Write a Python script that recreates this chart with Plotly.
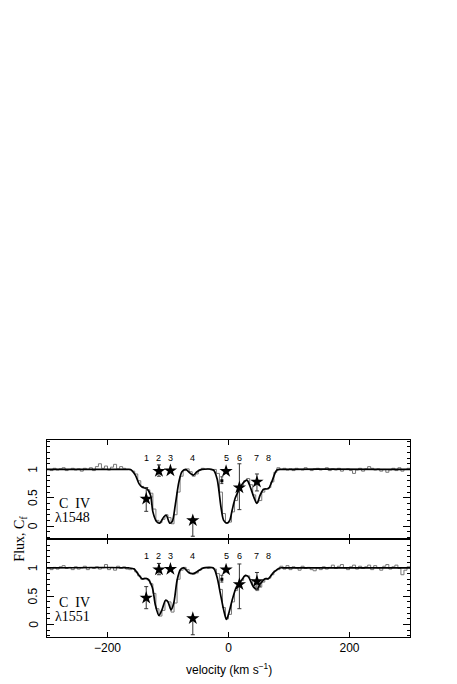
import numpy as np
import plotly.graph_objects as go
from plotly.subplots import make_subplots

# ---------------------------------------------------------------------------
# Data
# ---------------------------------------------------------------------------
vel_grid = np.arange(-300, 301, 5)

flux_1548 = [
    1.00, 0.98, 1.02, 0.99, 1.01, 1.03, 0.98, 1.00, 1.02, 0.99,   # -300..-255
    1.01, 0.97, 1.02, 1.00, 1.03, 0.98, 1.05, 1.10, 1.02, 1.06,   # -250..-205
    0.99, 1.04, 1.09, 1.01, 1.05, 1.02, 1.00, 0.99, 0.97, 0.92,   # -200..-155
    0.80, 0.70, 0.67, 0.64, 0.58, 0.30, 0.10, 0.06, 0.12, 0.20,   # -150..-105
    0.15, 0.04, 0.20, 0.60, 0.88, 0.98, 1.01, 0.96, 0.88, 0.92,   # -100..-55
    0.99, 1.02, 1.00, 1.01, 0.99, 1.00, 0.93, 0.60, 0.22, 0.05,   # -50..-5
    0.07, 0.25, 0.45, 0.63, 0.72, 0.80, 0.84, 0.73, 0.55, 0.42,   # 0..45
    0.45, 0.60, 0.66, 0.68, 0.78, 0.95, 1.03, 1.00, 1.02, 0.99,   # 50..95
    1.01, 0.98, 1.02, 1.00, 0.99, 1.03, 1.00, 0.98, 1.01, 1.02,   # 100..145
    0.99, 1.00, 1.03, 0.98, 1.01, 0.99, 1.02, 0.97, 1.00, 1.01,   # 150..195
    0.98, 0.93, 0.99, 1.02, 0.97, 1.01, 1.05, 1.02, 0.99, 1.01,   # 200..245
    0.97, 1.00, 0.95, 0.99, 1.02, 0.98, 1.03, 0.97, 1.00, 1.02,   # 250..295
    0.99,                                                         # 300
]

flux_1551 = [
    1.00, 0.97, 1.01, 0.98, 1.02, 1.04, 0.99, 1.01, 0.97, 1.02,
    0.98, 1.00, 1.03, 0.97, 1.01, 0.99, 1.02, 0.98, 1.00, 1.06,
    0.97, 1.01, 0.96, 1.03, 0.99, 1.02, 0.98, 0.97, 0.99, 0.93,
    0.86, 0.80, 0.82, 0.79, 0.72, 0.55, 0.28, 0.15, 0.25, 0.42,
    0.40, 0.22, 0.38, 0.80, 0.96, 1.01, 0.97, 0.90, 0.89, 0.91,
    0.96, 1.00, 1.01, 0.99, 1.00, 0.98, 0.90, 0.62, 0.30, 0.10,
    0.18, 0.40, 0.60, 0.70, 0.78, 0.85, 0.86, 0.79, 0.68, 0.60,
    0.66, 0.75, 0.80, 0.82, 0.88, 0.95, 0.97, 1.03, 0.98, 1.04,
    0.97, 1.02, 1.00, 0.96, 1.03, 0.99, 1.01, 0.97, 0.95, 1.00,
    0.97, 1.02, 0.98, 1.01, 1.05, 0.99, 1.03, 1.06, 1.00, 0.97,
    1.02, 1.05, 0.98, 1.03, 0.99, 1.02, 1.05, 0.97, 1.04, 1.00,
    0.96, 1.03, 1.06, 0.98, 1.02, 1.05, 0.99, 0.88, 0.96, 1.02,
    0.99,
]

# fitted model profiles (knots)
model_vel_1548 = [-300, -170, -162, -154, -148, -143, -135, -129, -125, -119, -114,
                  -107, -103, -97, -93, -88, -82, -77, -71, -63, -58, -52, -44,
                  -25, -19, -16, -12.5, -8, -2.5, 2, 6, 11, 18.5, 24, 30.5, 36,
                  41.5, 47, 52.5, 58, 66, 71.5, 80, 90, 300]
model_flux_1548 = [1.0, 1.0, 1.0, 0.9, 0.75, 0.69, 0.66, 0.55, 0.25, 0.08, 0.05,
                   0.16, 0.19, 0.05, 0.08, 0.37, 0.78, 0.96, 1.0, 0.93, 0.9, 0.96, 1.0,
                   0.99, 0.84, 0.64, 0.34, 0.1, 0.05, 0.1, 0.28, 0.49, 0.66, 0.76, 0.81, 0.69,
                   0.52, 0.4, 0.55, 0.65, 0.66, 0.78, 0.99, 1.0, 1.0]

model_vel_1551 = [-300, -165, -156, -148, -143, -134, -126, -121, -115, -110, -104,
                  -100, -95, -90.5, -85, -79.5, -74, -66, -58.5, -49.5, -41,
                  -25, -19, -13.5, -8, -3.5, 0.5, 6, 13, 19.5, 28, 33, 41.5, 47,
                  52.5, 60.5, 66, 74.5, 85, 95, 300]
model_flux_1551 = [1.0, 1.0, 0.98, 0.87, 0.81, 0.81, 0.66, 0.35, 0.16, 0.26, 0.43,
                   0.40, 0.26, 0.38, 0.78, 0.97, 1.0, 0.92, 0.9, 0.95, 1.0,
                   1.0, 0.84, 0.55, 0.26, 0.09, 0.2, 0.43, 0.66, 0.75, 0.87, 0.84, 0.66, 0.62,
                   0.72, 0.81, 0.81, 0.92, 1.0, 1.0, 1.0]

# component velocities and covering factors
comp_labels = ['1', '2', '3', '4', '5', '6', '7', '8']
comp_vel = [-136, -115, -96, -59, -4, 18, 47, 66]

cf_vel = [-136, -115, -96, -59, -4, 18, 47]
cf_1548 = [0.48, 0.97, 0.98, 0.10, 0.97, 0.68, 0.78]
cf_1548_up = [0.20, 0.11, 0.0, 0.03, 0.0, 0.42, 0.14]
cf_1548_dn = [0.22, 0.09, 0.0, 0.28, 0.0, 0.39, 0.16]
cf_1551 = [0.47, 0.97, 0.98, 0.11, 0.97, 0.71, 0.76]
cf_1551_up = [0.20, 0.11, 0.0, 0.03, 0.0, 0.36, 0.16]
cf_1551_dn = [0.19, 0.09, 0.0, 0.29, 0.0, 0.43, 0.14]

dot_vel = [-11]
dot_1548 = [0.80]
dot_1551 = [0.80]

y_tick_vals = [0, 0.5, 1]
y_tick_text = ['0', '0.5', '1']

panels = [
    ('C  IV', 'λ1548', flux_1548, model_vel_1548, model_flux_1548,
     cf_1548, cf_1548_up, cf_1548_dn, dot_1548),
    ('C  IV', 'λ1551', flux_1551, model_vel_1551, model_flux_1551,
     cf_1551, cf_1551_up, cf_1551_dn, dot_1551),
]

SANS = 'Liberation Sans'
SERIF = 'Liberation Serif'
Y_RANGE = [-0.22, 1.52]

fig = make_subplots(rows=2, cols=1, shared_xaxes=True, vertical_spacing=0)

for row, (ion, line, flux, mv, mf, cf, cf_up, cf_dn, dot) in enumerate(panels, start=1):
    # reference levels
    for lvl in (0, 1):
        fig.add_hline(y=lvl, row=row, col=1, line=dict(color='#555555', width=1, dash='7px,5px'))
    for v in comp_vel:
        fig.add_vline(x=v, row=row, col=1, line=dict(color='#555555', width=1, dash='1px,3px'))

    # observed spectrum
    fig.add_trace(go.Scatter(x=vel_grid, y=flux, mode='lines', line_shape='hv',
                             line=dict(color='#777777', width=1), showlegend=False,
                             hoverinfo='skip'), row=row, col=1)
    # model
    fig.add_trace(go.Scatter(x=mv, y=mf, mode='lines', line_shape='spline',
                             line=dict(color='black', width=1.7, smoothing=0.8),
                             showlegend=False, hoverinfo='skip'), row=row, col=1)
    # covering factors
    fig.add_trace(go.Scatter(x=cf_vel, y=cf, mode='markers',
                             marker=dict(symbol='star', size=10, color='black'),
                             error_y=dict(type='data', symmetric=False, array=cf_up,
                                          arrayminus=cf_dn, color='#333333',
                                          thickness=1, width=2),
                             showlegend=False), row=row, col=1)
    fig.add_trace(go.Scatter(x=dot_vel, y=dot, mode='markers',
                             marker=dict(symbol='square', size=3, color='black'),
                             error_y=dict(type='data', symmetric=False, array=[0.07],
                                          arrayminus=[0.05], color='#333333',
                                          thickness=1, width=1.5),
                             showlegend=False), row=row, col=1)

    yref = 'y' if row == 1 else 'y2'
    xref = 'x' if row == 1 else 'x2'
    for lab, v in zip(comp_labels, comp_vel):
        fig.add_annotation(x=v, y=1.21, xref=xref, yref=yref, text=lab, showarrow=False,
                           font=dict(family=SANS, size=9, color='black'))
    fig.add_annotation(x=-255, y=0.39, xref=xref, yref=yref, text=ion, showarrow=False,
                       font=dict(family=SERIF, size=14, color='black'))
    fig.add_annotation(x=-258, y=0.15, xref=xref, yref=yref, text=line, showarrow=False,
                       font=dict(family=SERIF, size=14, color='black'))
    # rotated y tick labels
    for tv, tt in zip(y_tick_vals, y_tick_text):
        fig.add_annotation(x=-0.038, y=tv, xref='paper', yref=yref, text=tt,
                           textangle=-90, xanchor='center', yanchor='middle',
                           showarrow=False, font=dict(family=SANS, size=12, color='black'))

axis_common = dict(showline=True, linecolor='black', linewidth=1, mirror='ticks',
                   ticks='inside', tickcolor='black', showgrid=False, zeroline=False,
                   automargin=False)

for r in (1, 2):
    fig.update_xaxes(range=[-300, 300], tickvals=[-200, 0, 200], ticklen=5,
                     ticktext=['\u2212200', '0', '200'],
                     tickfont=dict(family=SANS, size=12, color='black'),
                     row=r, col=1, **axis_common)
    fig.update_yaxes(range=Y_RANGE, tickvals=y_tick_vals, ticklen=7, showticklabels=False,
                     minor=dict(dtick=0.1, ticklen=3, ticks='inside', tickcolor='black'),
                     row=r, col=1, **axis_common)

fig.update_xaxes(showticklabels=False, row=1, col=1)

fig.add_annotation(x=-0.074, y=0.5, xref='paper', yref='paper', textangle=-90,
                   xanchor='center', yanchor='middle',
                   text='Flux, C<sub>f</sub>', showarrow=False,
                   font=dict(family=SERIF, size=14, color='black'))
fig.add_annotation(x=0.5, y=-0.16, xref='paper', yref='paper', yanchor='middle',
                   text='velocity (km s<sup>\u22121</sup>)', showarrow=False,
                   font=dict(family=SANS, size=12, color='black'))

# page body has an 8px margin, so the figure is offset by (8, 8) in the window
fig.update_layout(width=449, height=676, template='plotly_white',
                  paper_bgcolor='white', plot_bgcolor='white',
                  margin=dict(l=39, r=47, t=432, b=47), showlegend=False)

fig.write_html("out.html")
